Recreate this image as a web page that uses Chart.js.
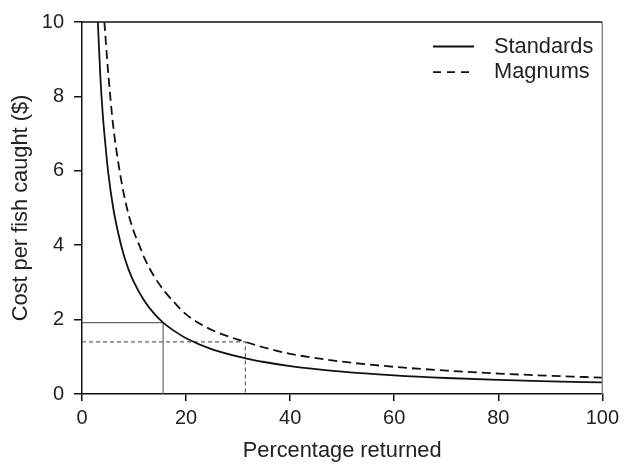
<!DOCTYPE html>
<html>
<head>
<meta charset="utf-8">
<script src="https://cdn.jsdelivr.net/npm/chart.js@4.4.1/dist/chart.umd.min.js"></script>
<style>
  body { margin: 0; background: #fff; }
  #chart { display: block; }
</style>
</head>
<body>
<canvas id="chart" width="624" height="464"></canvas>
<script>
// values
const stdX = [3.05, 3.5, 4, 4.5, 5, 6, 7, 8, 9, 10, 12, 14, 15.6, 18, 20, 25, 31.4, 35, 40, 50, 60, 70, 80, 90, 100];
const stdY = [10, 8.6, 7.5, 6.7, 6.0, 5.0, 4.3, 3.75, 3.33, 3.0, 2.5, 2.14, 1.92, 1.67, 1.5, 1.2, 0.96, 0.86, 0.75, 0.6, 0.5, 0.43, 0.38, 0.34, 0.31];

const magX = [4.3, 5, 6, 7, 8, 9, 10, 11, 12, 14, 16, 18, 20, 25, 31.4, 35, 40, 50, 60, 70, 80, 90, 100];
const magY = [10, 8.7, 7.2, 6.2, 5.4, 4.8, 4.35, 4.0, 3.65, 3.13, 2.74, 2.42, 2.14, 1.72, 1.40, 1.25, 1.08, 0.87, 0.73, 0.63, 0.55, 0.49, 0.44];

// drop lines marking the 2 read-off points
const stdRefX = [0, 15.6, 15.6];
const stdRefY = [1.92, 1.92, 0];
const magRefX = [0, 31.4, 31.4];
const magRefY = [1.40, 1.40, 0];

const xTicks = [0, 20, 40, 60, 80, 100];
const yTicks = [0, 2, 4, 6, 8, 10];

function toPoints(xs, ys) {
    return xs.map((x, i) => ({ x: x, y: ys[i] }));
}

const FONT = "'Liberation Sans', Arial, Helvetica, sans-serif";

// =============== frame + legend ===============
const framePlugin = {
    id: "frame",
    afterDraw(chart) {
        const { ctx, chartArea: a } = chart;
        ctx.save();
        ctx.lineWidth = 1.5;
        ctx.strokeStyle = "#111";
        ctx.beginPath();
        ctx.moveTo(a.left, a.top);
        ctx.lineTo(a.right, a.top);
        ctx.stroke();
        ctx.strokeStyle = "#888";
        ctx.beginPath();
        ctx.moveTo(a.right, a.top);
        ctx.lineTo(a.right, a.bottom);
        ctx.stroke();

        // legend, first two datasets only
        const items = chart.data.datasets.slice(0, 2);
        ctx.font = "21.8px " + FONT;
        ctx.textBaseline = "middle";
        ctx.fillStyle = "#222";
        items.forEach((ds, i) => {
            const y = 46.5 + i * 25.6;
            ctx.strokeStyle = ds.borderColor;
            ctx.lineWidth = 1.8;
            ctx.setLineDash(ds.borderDash ? [8, 6] : []);
            ctx.beginPath();
            ctx.moveTo(433, y);
            ctx.lineTo(474, y);
            ctx.stroke();
            ctx.setLineDash([]);
            ctx.fillText(ds.label, 494, y);
        });
        ctx.restore();
    }
};

new Chart(document.getElementById("chart").getContext("2d"), {
    type: "line",
    data: {
        datasets: [
            {
                label: "Standards",
                data: toPoints(stdX, stdY),
                borderColor: "#111",
                borderWidth: 1.8,
                cubicInterpolationMode: "monotone",
                pointRadius: 0
            },
            {
                label: "Magnums",
                data: toPoints(magX, magY),
                borderColor: "#111",
                borderWidth: 1.8,
                borderDash: [9, 5],
                cubicInterpolationMode: "monotone",
                pointRadius: 0
            },
            {
                label: "std ref",
                data: toPoints(stdRefX, stdRefY),
                borderColor: "#666",
                borderWidth: 1.2,
                tension: 0,
                pointRadius: 0
            },
            {
                label: "mag ref",
                data: toPoints(magRefX, magRefY),
                borderColor: "#666",
                borderWidth: 1.2,
                borderDash: [4, 3],
                tension: 0,
                pointRadius: 0
            }
        ]
    },
    options: {
        responsive: false,
        animation: false,
        layout: { padding: { top: 18, right: 20, left: 0, bottom: 0 } },
        plugins: {
            legend: { display: false },
            tooltip: { enabled: false }
        },
        scales: {
            x: {
                type: "linear",
                min: 0,
                max: 100,
                afterBuildTicks: s => { s.ticks = xTicks.map(v => ({ value: v })); },
                afterFit: s => { s.height = 70; },
                grid: { drawOnChartArea: false, tickLength: 7, color: "#111", lineWidth: 1.5 },
                border: { color: "#111", width: 1.5 },
                ticks: { font: { family: FONT, size: 20 }, color: "#222", padding: 5, maxRotation: 0 },
                title: {
                    display: true,
                    text: "Percentage returned",
                    font: { family: FONT, size: 21.8 },
                    color: "#222",
                    padding: { top: 0, bottom: 0 }
                }
            },
            y: {
                min: 0,
                max: 10,
                afterBuildTicks: s => { s.ticks = yTicks.map(v => ({ value: v })); },
                afterFit: s => { s.width = 82; },
                grid: { drawOnChartArea: false, tickLength: 8, color: "#111", lineWidth: 1.5 },
                border: { color: "#111", width: 1.5 },
                ticks: { font: { family: FONT, size: 20 }, color: "#222", padding: 10 },
                title: {
                    display: true,
                    text: "Cost per fish caught ($)",
                    font: { family: FONT, size: 21.8 },
                    color: "#222",
                    padding: { top: 8, bottom: 0 }
                }
            }
        }
    },
    plugins: [framePlugin]
});
</script>
</body>
</html>
